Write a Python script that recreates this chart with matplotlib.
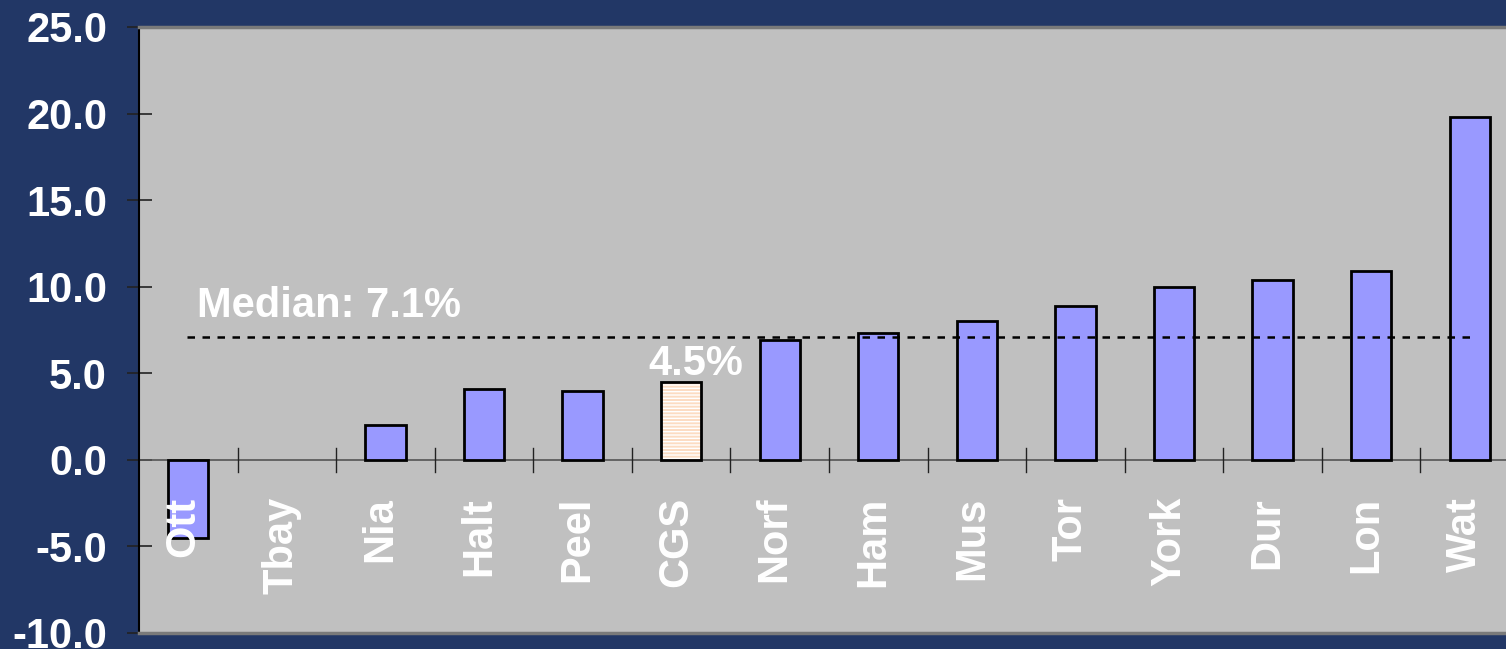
import matplotlib.pyplot as plt
from matplotlib.ticker import FormatStrFormatter

# data
regions = ["Ott", "Tbay", "Nia", "Halt", "Peel", "CGS", "Norf",
           "Ham", "Mus", "Tor", "York", "Dur", "Lon", "Wat"]
values = [-4.5, 0.0, 2.0, 4.1, 4.0, 4.5, 6.9,
          7.3, 8.0, 8.9, 10.0, 10.4, 10.9, 19.8]
highlight = "CGS"
median_value = 7.1
y_ticks = [-10, -5, 0, 5, 10, 15, 20, 25]

NAVY = "#223766"
PLOT_BG = "#C0C0C0"
BAR = "#9999FF"
PEACH = "#FCDCC2"
FS = 30

plt.rcParams["font.family"] = ["Liberation Sans", "DejaVu Sans"]
plt.rcParams["font.weight"] = "bold"

fig = plt.figure(figsize=(15.06, 6.49), dpi=100, facecolor=NAVY)
ax = fig.add_axes([139 / 1506, 16 / 649, 1380 / 1506, 606 / 649])
ax.set_facecolor(PLOT_BG)

x = list(range(len(regions)))
for xi, v, r in zip(x, values, regions):
    if v == 0:
        continue
    if r == highlight:
        # striped fill like the original, then outline on top
        ax.bar(xi, v, width=0.41, color=PEACH, edgecolor="white",
               hatch="-----", linewidth=0, zorder=3)
        ax.bar(xi, v, width=0.41, fill=False, edgecolor="black",
               linewidth=2, zorder=4)
    else:
        ax.bar(xi, v, width=0.41, color=BAR, edgecolor="black",
               linewidth=2, zorder=3)

ax.axhline(0, color="#555555", linewidth=1.2, zorder=2)
ax.plot([x[0] - 0.01, x[-1] + 0.05], [median_value, median_value],
        color="black", linewidth=1.8, linestyle=(0, (3, 3)), zorder=5)

ax.annotate(f"Median: {median_value}%", xy=(0.09, median_value),
            xytext=(0, 20), textcoords="offset pixels", ha="left",
            va="baseline", color="white", fontsize=FS, fontweight="bold")
hi = regions.index(highlight)
ax.annotate(f"{values[hi]}%", xy=(hi, values[hi]), xytext=(15, 7),
            textcoords="offset pixels", ha="center", va="baseline",
            color="white", fontsize=FS, fontweight="bold", zorder=6)

# category names sit inside the plot, just under the zero line
for xi, r in zip(x, regions):
    ax.annotate(r, xy=(xi, 0), xytext=(-5, -37), textcoords="offset pixels",
                rotation=90, ha="center", va="top", color="white",
                fontsize=FS, fontweight="bold", zorder=6)

ax.set_xlim(-0.5, len(regions) - 0.5)
ax.set_ylim(-10, 25)
ax.set_yticks(y_ticks)
ax.yaxis.set_major_formatter(FormatStrFormatter("%.1f"))
ax.tick_params(axis="y", direction="inout", length=18, width=1.2,
               color="#222222", labelcolor="white", labelsize=FS, pad=14)
ax.set_xticks([])

# separators between categories, drawn across the zero line
for xi in x[:-1]:
    ax.plot([xi + 0.5, xi + 0.5], [-0.7, 0.7], color="#222222",
            linewidth=1, zorder=2)

ax.spines["left"].set_color("black")
ax.spines["left"].set_linewidth(1.5)
ax.spines["top"].set_color("#7A7A7A")
ax.spines["top"].set_linewidth(2.5)
ax.spines["bottom"].set_color("#7A7A7A")
ax.spines["bottom"].set_linewidth(2.5)
ax.spines["right"].set_visible(False)

fig.savefig("out.png", dpi=100, facecolor=NAVY)
